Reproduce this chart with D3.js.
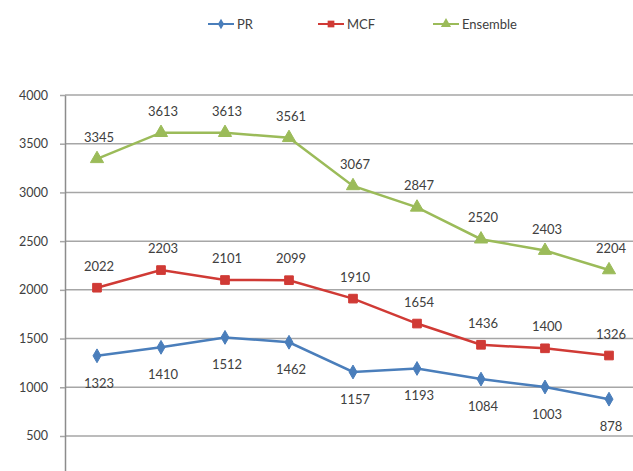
<!DOCTYPE html>
<html>
<head>
<meta charset="utf-8">
<script src="https://cdn.jsdelivr.net/npm/d3@7"></script>
<style>
  body { margin: 0; background: #fff; }
</style>
</head>
<body>
<div id="canvas"></div>
<script>
var w = 633;
var h = 471;

var years = ["1", "2", "3", "4", "5", "6", "7", "8", "9"];
var pr = [1323, 1410, 1512, 1462, 1157, 1193, 1084, 1003, 878];
var mcf = [2022, 2203, 2101, 2099, 1910, 1654, 1436, 1400, 1326];
var ensemble = [3345, 3613, 3613, 3561, 3067, 2847, 2520, 2403, 2204];
var yTicks = [500, 1000, 1500, 2000, 2500, 3000, 3500, 4000];

var series = [
    { name: "PR", values: pr, color: "#4a7ebb", marker: "diamond", labelPos: "below" },
    { name: "MCF", values: mcf, color: "#d03a35", marker: "square", labelPos: "above" },
    { name: "Ensemble", values: ensemble, color: "#9bbb59", marker: "triangle", labelPos: "above" }
];

var canvas = d3.select("#canvas")
    .append("svg")
    .attr("width", w)
    .attr("height", h)
    .style("background-color", "white");

var xScale = d3.scaleBand()
    .domain(years)
    .range([65, 641]);

var yScale = d3.scaleLinear()
    .domain([0, 4000])
    .range([484.7, 95]);

// gridlines
canvas.selectAll(".grid")
    .data(yTicks)
    .join("line")
    .attr("class", "grid")
    .attr("x1", 65)
    .attr("x2", w)
    .attr("y1", function (d) { return yScale(d); })
    .attr("y2", function (d) { return yScale(d); })
    .attr("stroke", "#a6a6a6")
    .attr("stroke-width", 1.5);

// y axis
var yAxis = d3.axisLeft(yScale)
    .tickValues(yTicks)
    .tickFormat(d3.format("d"))
    .tickSize(5)
    .tickSizeOuter(0)
    .tickPadding(12);

var axisG = canvas.append("g")
    .attr("transform", "translate(65,0)")
    .call(yAxis);

axisG.select(".domain")
    .attr("stroke", "#8c8c8c")
    .attr("stroke-width", 1.5);

axisG.selectAll(".tick line")
    .attr("stroke", "#a6a6a6")
    .attr("stroke-width", 1.5);

axisG.selectAll("text")
    .attr("font-family", "Lato")
    .attr("font-size", "12.5px")
    .attr("fill", "#404040");

function markerPath(type, k) {
    if (type == "diamond") return d3.symbol().type(d3.symbolDiamond).size(55 * k)();
    if (type == "square") return d3.symbol().type(d3.symbolSquare).size(75 * k)();
    return d3.symbol().type(d3.symbolTriangle).size(75 * k)();
}

var line = d3.line()
    .x(function (d, i) { return xScale(years[i]) + xScale.bandwidth() / 2; })
    .y(function (d) { return yScale(d); });

series.forEach(function (s) {
    var g = canvas.append("g");

    g.append("path")
        .attr("d", line(s.values))
        .attr("fill", "none")
        .attr("stroke", s.color)
        .attr("stroke-width", 2.5);

    g.selectAll("path.mark")
        .data(s.values)
        .join("path")
        .attr("class", "mark")
        .attr("d", markerPath(s.marker, 1))
        .attr("transform", function (d, i) {
            return "translate(" + (xScale(years[i]) + xScale.bandwidth() / 2) + "," + yScale(d) + ")";
        })
        .attr("fill", s.color)
        .attr("stroke", s.color)
        .attr("stroke-width", 1);

    g.selectAll("text")
        .data(s.values)
        .join("text")
        .attr("x", function (d, i) { return xScale(years[i]) + xScale.bandwidth() / 2 + 2; })
        .attr("y", function (d) {
            return s.labelPos == "above" ? yScale(d) - 17 : yScale(d) + 32;
        })
        .text(function (d) { return d; })
        .attr("font-family", "Lato")
        .attr("font-size", "13px")
        .attr("fill", "#404040")
        .attr("text-anchor", "middle");
});

// legend
var legendX = [208, 318, 433];
series.forEach(function (s, i) {
    var lg = canvas.append("g")
        .attr("transform", "translate(" + legendX[i] + ",24)");
    lg.append("line")
        .attr("x1", 0)
        .attr("x2", 26)
        .attr("stroke", s.color)
        .attr("stroke-width", 2);
    lg.append("path")
        .attr("d", markerPath(s.marker, 0.6))
        .attr("transform", "translate(13,0)")
        .attr("fill", s.color);
    lg.append("text")
        .attr("x", 29)
        .attr("y", 4.5)
        .text(s.name)
        .attr("font-family", "Lato")
        .attr("font-size", "13px")
        .attr("fill", "#404040");
});
</script>
</body>
</html>
